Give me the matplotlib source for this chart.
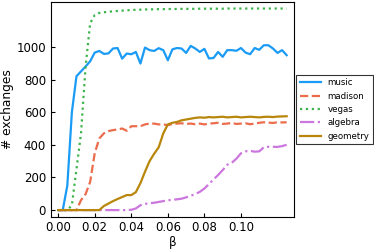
import numpy as np
import matplotlib
matplotlib.use("Agg")
import matplotlib.pyplot as plt

# beta axis: 0 .. 0.125 step 0.0025
beta = np.arange(51) * 0.0025

music = [0, 0, 150, 600, 820, 850, 880, 912, 965, 975,
         957, 960, 990, 993, 928, 959, 955, 969, 898, 996,
         980, 975, 992, 980, 918, 985, 993, 990, 963, 1006,
         990, 969, 988, 929, 932, 969, 939, 980, 980, 976,
         993, 965, 955, 993, 982, 1010, 1010, 990, 963, 980, 949]

madison = [0, 0, 0, 0, 0, 61, 98, 173, 349, 439,
           470, 484, 490, 494, 500, 486, 514, 514, 514, 525,
           530, 530, 525, 525, 520, 528, 530, 532, 528, 530,
           526, 530, 525, 530, 532, 535, 528, 530, 534, 528,
           530, 532, 526, 530, 535, 538, 536, 534, 538, 537, 538]

vegas = [0, 0, 0, 30, 250, 470, 880, 1145, 1195, 1208,
         1212, 1215, 1218, 1220, 1222, 1224, 1226, 1227, 1228, 1229,
         1230, 1230, 1231, 1231, 1232, 1232, 1232, 1233, 1233, 1233,
         1233, 1234, 1234, 1234, 1234, 1234, 1234, 1235, 1235, 1235,
         1235, 1235, 1235, 1235, 1235, 1235, 1235, 1235, 1235, 1235, 1235]

algebra = [0, 0, 0, 0, 0, 0, 0, 0, 0, 0,
           0, 0, 0, 0, 0, 0, 2, 10, 30, 38,
           42, 45, 50, 55, 60, 63, 66, 70, 78, 88,
           98, 112, 132, 160, 188, 215, 245, 278, 290, 315,
           348, 360, 363, 358, 360, 385, 388, 388, 387, 392, 400]

geometry = [0, 0, 0, 0, 0, 0, 0, 0, 0, 0,
            25, 40, 55, 68, 80, 92, 92, 110, 165, 235,
            300, 345, 385, 470, 525, 535, 540, 550, 555, 560,
            565, 568, 566, 570, 568, 570, 572, 568, 570, 572,
            568, 570, 572, 570, 568, 571, 572, 570, 573, 574, 575]

series = [
    ("music", music, "#1a9bf5", "-"),
    ("madison", madison, "#ec6d4c", "--"),
    ("vegas", vegas, "#3cb44b", ":"),
    ("algebra", algebra, "#cc77dd", "-."),
    ("geometry", geometry, "#b8860b", "-"),
]

fig = plt.figure(figsize=(3.74, 2.49), dpi=100)
ax = fig.add_axes([0.136, 0.130, 0.650, 0.862])

for name, vals, color, ls in series:
    ax.plot(beta, vals, color=color, linestyle=ls, linewidth=1.6, label=name)

ax.set_xlim(-0.004, 0.129)
ax.set_ylim(-40, 1275)
ax.set_xticks([0.0, 0.02, 0.04, 0.06, 0.08, 0.10])
ax.set_xticklabels(["0.00", "0.02", "0.04", "0.06", "0.08", "0.10"])
ax.set_yticks([0, 200, 400, 600, 800, 1000])
ax.tick_params(direction="in", labelsize=8.5, length=3)
ax.set_xlabel("β", fontsize=8.5, labelpad=1)
ax.set_ylabel("# exchanges", fontsize=8.8, labelpad=2)

leg = ax.legend(loc="upper left", bbox_to_anchor=(1.01, 0.66),
                fontsize=6.2, frameon=True, fancybox=False,
                edgecolor="black", handlelength=2.4, borderaxespad=0)
leg.get_frame().set_linewidth(0.8)

fig.savefig("out.png", dpi=100)
